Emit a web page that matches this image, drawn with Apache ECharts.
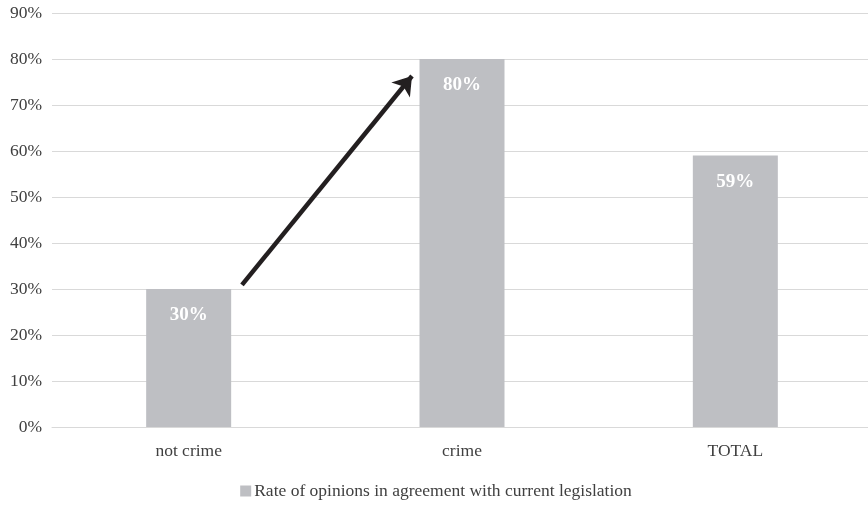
<!DOCTYPE html>
<html>
<head>
<meta charset="utf-8">
<script src="https://cdn.jsdelivr.net/npm/echarts@6/dist/echarts.min.js"></script>
<style>
html,body{margin:0;padding:0;background:#fff;overflow:hidden;}
#chart{width:872px;height:505px;}
</style>
</head>
<body>
<div id="chart"></div>
<script>
var categories = ['not crime', 'crime', 'TOTAL'];
var values = [30, 80, 59];
var seriesName = 'Rate of opinions in agreement with current legislation';
var yTicks = [0, 10, 20, 30, 40, 50, 60, 70, 80, 90];
// arrow annotation in data space (x: category-units 0..3, y: percent)
var arrowStart = [0.695, 30.9];
var arrowEnd = [1.317, 76.3];

var FONT = '"Liberation Serif", "DejaVu Serif", serif';
var chart = echarts.init(document.getElementById('chart'));
chart.setOption({
  animation: false,
  backgroundColor: '#ffffff',
  textStyle: { fontFamily: FONT },
  grid: { left: 52, right: 0, top: 13, bottom: 78, containLabel: false },
  xAxis: [{
    type: 'category',
    data: categories,
    axisLine: { show: true, lineStyle: { color: '#d9d9d9', width: 1 } },
    axisTick: { show: false },
    axisLabel: { color: '#404040', fontSize: 17.5, fontFamily: FONT, margin: 15 }
  }, {
    type: 'value', min: 0, max: 3, show: false
  }],
  yAxis: {
    type: 'value', min: yTicks[0], max: yTicks[yTicks.length - 1], interval: 10,
    axisLine: { show: false },
    axisTick: { show: false },
    splitLine: { lineStyle: { color: '#d9d9d9', width: 1 } },
    axisLabel: { color: '#404040', fontSize: 17.5, fontFamily: FONT, margin: 10, formatter: '{value}%' }
  },
  legend: {
    top: 482, left: 'center', padding: 0,
    itemWidth: 11, itemHeight: 11, itemGap: 5,
    icon: 'rect',
    textStyle: { color: '#404040', fontSize: 17.5, fontFamily: FONT, padding: [0,0,0,-2] },
    data: [seriesName]
  },
  series: [{
    name: seriesName,
    type: 'bar',
    data: values,
    barWidth: 85,
    itemStyle: { color: '#bebfc3' },
    label: {
      show: true, position: 'insideTop', distance: 16.5,
      color: '#ffffff', fontWeight: 'bold', fontSize: 19, fontFamily: FONT,
      formatter: '{c}%'
    }
  }, {
    type: 'lines',
    coordinateSystem: 'cartesian2d',
    xAxisIndex: 1, yAxisIndex: 0,
    symbol: ['none', 'arrow'],
    symbolSize: 18,
    lineStyle: { color: '#231f20', width: 4.5, opacity: 1 },
    data: [{ coords: [arrowStart, arrowEnd] }],
    silent: true
  }]
});
</script>
</body>
</html>
